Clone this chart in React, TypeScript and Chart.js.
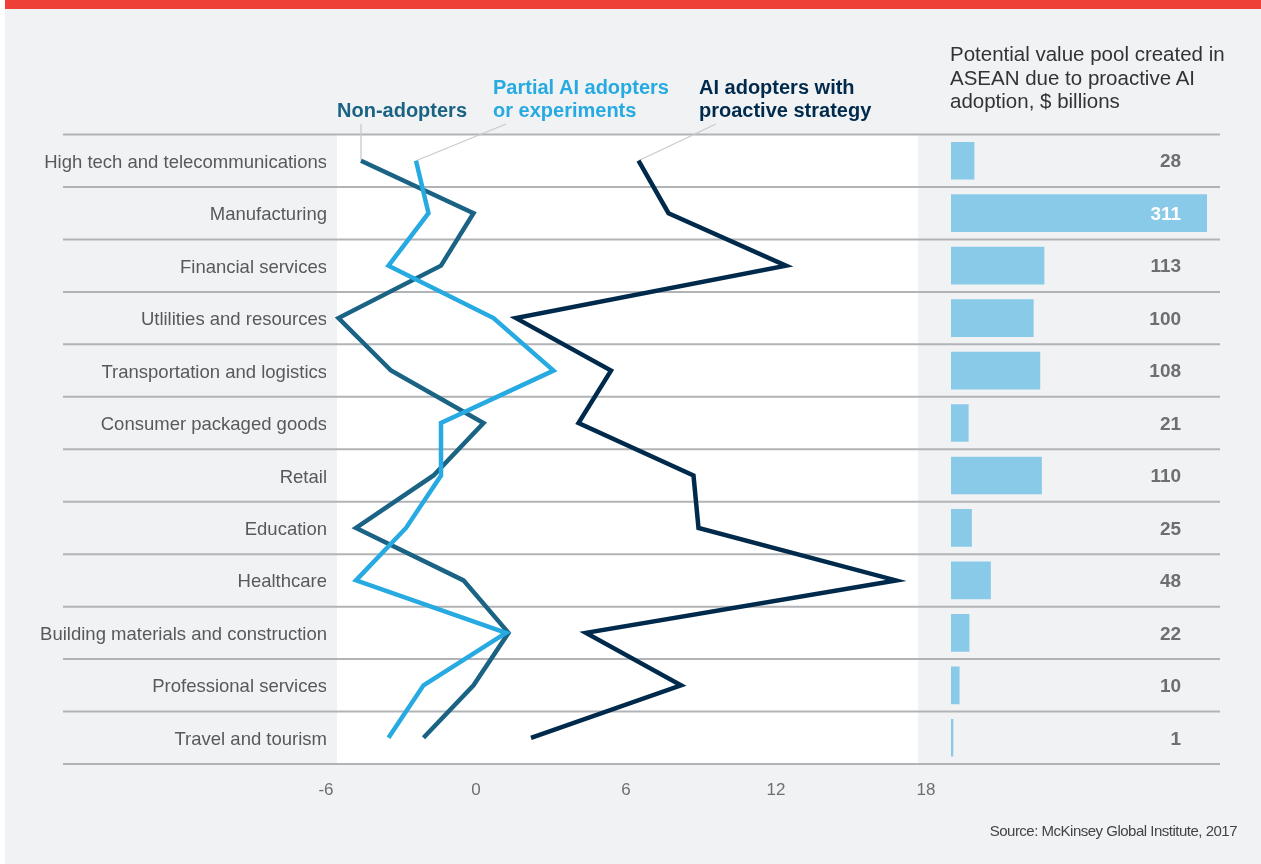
import React, { useEffect, useRef } from "react";
import { Chart, registerables } from "chart.js";

Chart.register(...registerables);

const categories = [
  "High tech and telecommunications",
  "Manufacturing",
  "Financial services",
  "Utlilities and resources",
  "Transportation and logistics",
  "Consumer packaged goods",
  "Retail",
  "Education",
  "Healthcare",
  "Building materials and construction",
  "Professional services",
  "Travel and tourism",
];

const nonAdopters = [-4.6, -0.1, -1.4, -5.5, -3.4, 0.3, -1.7, -4.8, -0.5, 1.3, -0.1, -2.1];
const partialAdopters = [-2.4, -1.9, -3.5, 0.7, 3.1, -1.4, -1.4, -2.8, -4.8, 1.2, -2.1, -3.5];
const proactiveAdopters = [6.5, 7.7, 12.4, 1.6, 5.4, 4.1, 8.7, 8.9, 16.8, 4.4, 8.2, 2.2];
const valuePool = [28, 311, 113, 100, 108, 21, 110, 25, 48, 22, 10, 1];

const xMin = -6;
const xMax = 18;
const xStep = 6;

const FONT = "'Liberation Sans', Arial, sans-serif";
const TEAL = "#1b6384";
const LIGHT = "#27aae1";
const NAVY = "#002a4c";
const BAR = "#89cae9";
const PAGE_BG = "#f1f2f4";
const GRID = "#b2b3b6";

const bgPlugin = {
  id: "bgGrid",
  beforeDatasetsDraw(chart: any) {
    const { ctx, chartArea, scales } = chart;
    ctx.save();
    // white plot band
    ctx.fillStyle = "#ffffff";
    ctx.fillRect(337, chartArea.top, 918 - 337, chartArea.bottom - chartArea.top);
    // row separators across the whole figure
    ctx.strokeStyle = GRID;
    ctx.lineWidth = 2;
    for (let i = 0; i <= categories.length; i++) {
      const y = scales.y.getPixelForValue(i - 0.5);
      ctx.beginPath();
      ctx.moveTo(63, y);
      ctx.lineTo(1220, y);
      ctx.stroke();
    }
    // leader lines from series labels to first points
    const anchors: Record<string, [number | null, number]> = {
      teal: [null, 124],
      light: [506, 124],
      navy: [716, 124],
    };
    const idx: Record<string, number> = { navy: 0, teal: 1, light: 2 };
    ctx.strokeStyle = "#c9cacc";
    ctx.lineWidth = 1.3;
    Object.keys(anchors).forEach((k) => {
      const p = chart.getDatasetMeta(idx[k]).data[0];
      if (!p) return;
      const ax = anchors[k][0] === null ? p.x : (anchors[k][0] as number);
      ctx.beginPath();
      ctx.moveTo(ax, anchors[k][1]);
      ctx.lineTo(p.x, p.y);
      ctx.stroke();
    });
    ctx.restore();
  },
};

const valueLabelPlugin = {
  id: "valueLabels",
  afterDatasetsDraw(chart: any) {
    const { ctx, scales } = chart;
    const meta = chart.getDatasetMeta(0);
    const lx = scales.x.getPixelForValue(279.5);
    ctx.save();
    ctx.font = `bold 19px ${FONT}`;
    ctx.textAlign = "right";
    ctx.textBaseline = "middle";
    meta.data.forEach((bar: any, i: number) => {
      ctx.fillStyle = bar.x >= lx ? "#ffffff" : "#6d6e71";
      ctx.fillText(String(valuePool[i]), lx, bar.y + 1.5);
    });
    ctx.restore();
  },
};

export default function App() {
  const lineRef = useRef<HTMLCanvasElement>(null);
  const barRef = useRef<HTMLCanvasElement>(null);

  useEffect(() => {
    Chart.defaults.font.family = FONT;
    const lineChart = new Chart(lineRef.current as HTMLCanvasElement, {
      type: "line",
      data: {
        labels: categories,
        datasets: [
          { label: "AI adopters with proactive strategy", data: proactiveAdopters, borderColor: NAVY, order: 0 },
          { label: "Non-adopters", data: nonAdopters, borderColor: TEAL, order: 2 },
          { label: "Partial AI adopters or experiments", data: partialAdopters, borderColor: LIGHT, order: 1 },
        ],
      },
      options: {
        indexAxis: "y",
        responsive: false,
        animation: false,
        events: [],
        layout: { padding: { left: 0, right: 335, top: 134.5, bottom: 60 } },
        elements: {
          line: { borderWidth: 4.5, tension: 0, borderJoinStyle: "miter", borderCapStyle: "butt", fill: false },
          point: { radius: 0, hoverRadius: 0 },
        },
        plugins: { legend: { display: false }, tooltip: { enabled: false } },
        scales: {
          x: {
            type: "linear",
            position: "bottom",
            min: xMin,
            max: xMax,
            ticks: { stepSize: xStep, font: { size: 17 }, color: "#6d6e71", padding: 16, maxRotation: 0 },
            grid: { display: false, drawTicks: false },
            border: { display: false },
            afterFit: (s: any) => {
              s.height = 40;
            },
          },
          y: {
            type: "category",
            offset: true,
            ticks: { font: { size: 18.5 }, color: "#58595b", padding: -1, autoSkip: false, labelOffset: 2 },
            grid: { display: false, drawTicks: false },
            border: { display: false },
            afterFit: (s: any) => {
              s.width = 326;
            },
          },
        },
      } as any,
      plugins: [bgPlugin],
    });

    const barChart = new Chart(barRef.current as HTMLCanvasElement, {
      type: "bar",
      data: {
        labels: categories,
        datasets: [
          {
            label: "Potential value pool",
            data: valuePool,
            backgroundColor: BAR,
            barThickness: 37,
            minBarLength: 2,
            borderWidth: 0,
          },
        ],
      },
      options: {
        indexAxis: "y",
        responsive: false,
        animation: false,
        events: [],
        layout: { padding: { left: 951, right: 54, top: 134.5, bottom: 100 } },
        plugins: { legend: { display: false }, tooltip: { enabled: false } },
        scales: {
          x: { display: false, min: 0, max: 311 },
          y: { display: false },
        },
      } as any,
      plugins: [valueLabelPlugin],
    });

    return () => {
      lineChart.destroy();
      barChart.destroy();
    };
  }, []);

  const abs = (o: React.CSSProperties): React.CSSProperties => ({ position: "absolute", ...o });

  return (
    <div style={abs({ left: 0, top: 0, width: 1261, height: 864, background: "#ffffff", overflow: "hidden", fontFamily: FONT })}>
      <div style={abs({ left: 5, top: 0, right: 0, bottom: 0, background: PAGE_BG })} />
      <div style={abs({ left: 5, top: 0, right: 0, height: 9, background: "#ef4037" })} />
      <canvas ref={lineRef} width={1261} height={864} style={abs({ left: 0, top: 0, width: 1261, height: 864 })} />
      <canvas ref={barRef} width={1261} height={864} style={abs({ left: 0, top: 0, width: 1261, height: 864 })} />
      <div style={abs({ left: 337, top: 99, color: TEAL, fontWeight: 700, fontSize: 20, lineHeight: "23px", whiteSpace: "nowrap" })}>
        Non-adopters
      </div>
      <div style={abs({ left: 493, top: 76, color: LIGHT, fontWeight: 700, fontSize: 20, lineHeight: "23px", whiteSpace: "nowrap" })}>
        Partial AI adopters
        <br />
        or experiments
      </div>
      <div style={abs({ left: 699, top: 76, color: NAVY, fontWeight: 700, fontSize: 20, lineHeight: "23px", whiteSpace: "nowrap" })}>
        AI adopters with
        <br />
        proactive strategy
      </div>
      <div style={abs({ left: 950, top: 42, color: "#333333", fontSize: 20.5, lineHeight: "23.5px", whiteSpace: "nowrap" })}>
        Potential value pool created in
        <br />
        ASEAN due to proactive AI
        <br />
        adoption, $ billions
      </div>
      <div style={abs({ right: 24, top: 823, color: "#444444", fontSize: 15, lineHeight: "16px", letterSpacing: "-0.5px", whiteSpace: "nowrap" })}>
        Source: McKinsey Global Institute, 2017
      </div>
    </div>
  );
}
